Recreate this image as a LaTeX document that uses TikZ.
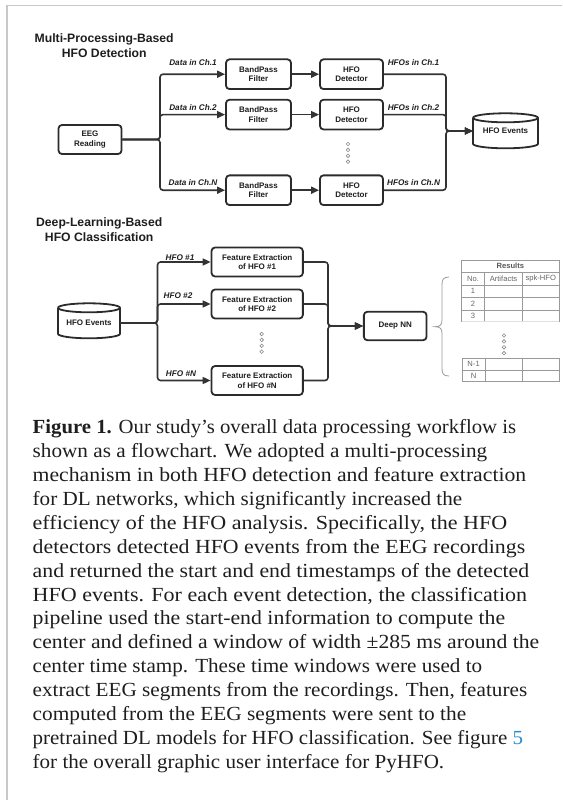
\documentclass[tikz,border=0pt]{standalone}
\usepackage{graphicx}
\usepackage{fontspec}
\setmainfont{Liberation Sans}
\newfontfamily\capfont[FakeStretch=1.04]{Liberation Serif}
\usetikzlibrary{arrows.meta}
\definecolor{boxc}{HTML}{2B2B2B}
\definecolor{linec}{HTML}{333333}
\definecolor{textc}{HTML}{1E1E1E}
\definecolor{framec}{HTML}{C8C8C8}
\definecolor{tabc}{HTML}{9A9A9A}
\definecolor{tabtext}{HTML}{666666}
\definecolor{dotc}{HTML}{8A8A8A}
\definecolor{linkc}{HTML}{2A8AD0}
\newcommand{\capln}[2]{\resizebox{#1}{\height}{#2}}
\tikzset{
  box/.style={draw=boxc, line width=1.8pt, rounded corners=3.5pt, fill=white,
    font=\fontsize{8}{9.6}\selectfont\bfseries, text=textc, align=center, inner sep=0pt},
  cylnode/.style={draw=none, inner sep=0pt, font=\fontsize{8}{9.6}\selectfont\bfseries, text=textc},
  cylline/.style={draw=boxc, line width=1.8pt},
  conn/.style={draw=linec, line width=1.6pt, rounded corners=3pt},
  arr/.style={conn, -{Triangle[length=8pt,width=7pt]}},
  lab/.style={font=\fontsize{8.2}{9}\selectfont\bfseries\itshape, text=textc, inner sep=0pt},
  ttl/.style={font=\fontsize{12.2}{14.8}\selectfont\bfseries, text=textc, align=center, inner sep=0pt},
  tline/.style={draw=tabc, line width=0.6pt},
  ttext/.style={font=\fontsize{7.6}{8}\selectfont, text=tabtext, inner sep=0pt},
  dotm/.style={draw=dotc, line width=0.6pt},
  capl/.style={font=\capfont\fontsize{20}{24}\selectfont, text=textc, anchor=base west, inner sep=0pt},
}
\begin{document}
\begin{tikzpicture}[x=1pt,y=-1pt]
\useasboundingbox (0,0) rectangle (562,800);
% frame
\draw[draw=framec, line width=1.5pt] (7.2,800) -- (7.2,5.4) -- (562,5.4);

% ---------- Part 1 ----------
\node[ttl] (title1) at (104.2,45.5) {Multi-Processing-Based\\HFO Detection};

\node[box, minimum width=63pt, minimum height=29pt] (eeg) at (90,139.5) {EEG\\Reading};
\node[box, minimum width=65pt, minimum height=29.7pt] (bp1) at (258.5,74.2) {BandPass\\Filter};
\node[box, minimum width=65pt, minimum height=29.7pt] (bp2) at (258.5,114.6) {BandPass\\Filter};
\node[box, minimum width=65pt, minimum height=29.7pt] (bp3) at (258.5,190.2) {BandPass\\Filter};
\node[box, minimum width=63pt, minimum height=29.7pt] (det1) at (351.5,74.2) {HFO\\Detector};
\node[box, minimum width=63pt, minimum height=29.7pt] (det2) at (351.5,114.6) {HFO\\Detector};
\node[box, minimum width=63pt, minimum height=29.7pt] (det3) at (351.5,190.2) {HFO\\Detector};

% cylinder 1
\draw[cylline] (473,117.8) -- (473,143.8)
  arc[start angle=180, end angle=360, x radius=32.5pt, y radius=4.5pt]
  -- (538,117.8)
  arc[start angle=0, end angle=180, x radius=32.5pt, y radius=4.5pt];
\draw[cylline] (473,117.8) arc[start angle=180, end angle=360, x radius=32.5pt, y radius=4.5pt];
\node[cylnode, minimum width=65pt, minimum height=30pt] (ev1) at (505.5,131) {\raisebox{-3pt}{HFO Events}};

\draw[arr] (eeg.east) -- (160,139.5) |- (bp1.west);
\draw[arr] (eeg.east) -- (160,139.5) |- (bp2.west);
\draw[arr] (eeg.east) -- (160,139.5) |- (bp3.west);
\draw[arr] (bp1.east) -- (det1.west);
\draw[arr] (bp2.east) -- (det2.west);
\draw[arr] (bp3.east) -- (det3.west);
\draw[arr] (det1.east) -| (446,131) -- (ev1.west);
\draw[arr] (det2.east) -| (446,131) -- (ev1.west);
\draw[arr] (det3.east) -| (446,131) -- (ev1.west);

\node[lab] (ld1) at (193,62.3) {Data in Ch.1};
\node[lab] (ld2) at (193,107.3) {Data in Ch.2};
\node[lab] (ld3) at (193,182.7) {Data in Ch.N};
\node[lab] (lh1) at (413.5,62.3) {HFOs in Ch.1};
\node[lab] (lh2) at (413.5,107.3) {HFOs in Ch.2};
\node[lab] (lh3) at (413.5,182.7) {HFOs in Ch.N};

\foreach \k in {0,...,3} \draw[dotm] (348,{144+\k*5.9}) circle[radius=1.8pt];

% ---------- Part 2 ----------
\node[ttl] (title2) at (99.2,229.4) {Deep-Learning-Based\\HFO Classification};

% cylinder 2
\draw[cylline] (58,307.8) -- (58,333.8)
  arc[start angle=180, end angle=360, x radius=31pt, y radius=4.5pt]
  -- (120,307.8)
  arc[start angle=0, end angle=180, x radius=31pt, y radius=4.5pt];
\draw[cylline] (58,307.8) arc[start angle=180, end angle=360, x radius=31pt, y radius=4.5pt];
\node[cylnode, minimum width=62pt, minimum height=30pt] (ev2) at (89,323) {\raisebox{-2pt}{HFO Events}};

\node[box, minimum width=91.3pt, minimum height=29pt] (fe1) at (257.2,262) {Feature Extraction\\of HFO \#1};
\node[box, minimum width=91.3pt, minimum height=29pt] (fe2) at (257.2,304) {Feature Extraction\\of HFO \#2};
\node[box, minimum width=91.3pt, minimum height=29pt] (fe3) at (257.2,380.5) {Feature Extraction\\of HFO \#N};
\node[box, minimum width=62.7pt, minimum height=28.5pt] (dnn) at (395.2,326) {Deep NN};

\draw[arr] (ev2.east) -- (157.5,323) |- (fe1.west);
\draw[arr] (ev2.east) -- (157.5,323) |- (fe2.west);
\draw[arr] (ev2.east) -- (157.5,323) |- (fe3.west);
\draw[arr] (fe1.east) -| (328,326) -- (dnn.west);
\draw[arr] (fe2.east) -| (328,326) -- (dnn.west);
\draw[arr] (fe3.east) -| (328,326) -- (dnn.west);

\node[lab] (lf1) at (180,258) {HFO \#1};
\node[lab] (lf2) at (178,295.5) {HFO \#2};
\node[lab] (lf3) at (181,373.3) {HFO \#N};

\foreach \k in {0,...,3} \draw[dotm] (261.7,{334+\k*5.9}) circle[radius=1.8pt];

% brace
\draw[draw=tabc, line width=0.8pt] (449,277) .. controls (443,277) and (442,280) .. (442,285)
  -- (442,320) .. controls (442,325) and (440,326.7) .. (435,326.7)
  .. controls (440,326.7) and (442,328.5) .. (442,333.5)
  -- (442,368) .. controls (442,373.5) and (443,376) .. (449,376);

% top table
\draw[tline] (461.7,321.7) -- (461.7,260) -- (559,260) -- (559,321.7);
\draw[tline] (461.7,272.3) -- (559,272.3);
\draw[tline] (461.7,285) -- (559,285);
\draw[tline] (461.7,297.3) -- (559,297.3);
\draw[tline] (461.7,310) -- (559,310);
\draw[tline] (484.3,272.3) -- (484.3,321.7);
\draw[tline] (522.7,272.3) -- (522.7,321.7);
\draw[tline, draw=tabc!30] (461.7,321.7) -- (559,321.7);
\node[ttext, font=\fontsize{7.6}{8}\selectfont\bfseries, text=tabtext!85!black] (tres) at (510.3,266.2) {Results};
\node[ttext] (tno) at (473,278.8) {No.};
\node[ttext] (tart) at (503.5,278.8) {Artifacts};
\node[ttext] (tspk) at (540.8,278.8) {spk-HFO};
\node[ttext] (tr1) at (473,291.2) {1};
\node[ttext] (tr2) at (473,303.7) {2};
\node[ttext] (tr3) at (473,316) {3};

\foreach \k in {0,...,3} \draw[dotm] (504,{335.5+\k*5.9}) circle[radius=1.8pt];

% bottom table
\draw[tline] (462.3,358.3) rectangle (559,381.7);
\draw[tline] (462.3,370) -- (559,370);
\draw[tline] (485,358.3) -- (485,381.7);
\draw[tline] (522.7,358.3) -- (522.7,381.7);
\node[ttext] (trn1) at (473.6,364.2) {N-1};
\node[ttext] (trn) at (473.6,375.9) {N};

% ---------- caption ----------
\node[capl] (c1) at (32.5,433.5) {\capln{483.5pt}{\textbf{Figure 1.} Our study’s overall data processing workflow is}};
\node[capl] (c2) at (32.5,457.4) {\capln{454.5pt}{shown as a flowchart. We adopted a multi-processing}};
\node[capl] (c3) at (32.5,481.4) {\capln{493.5pt}{mechanism in both HFO detection and feature extraction}};
\node[capl] (c4) at (32.5,505.3) {\capln{429.5pt}{for DL networks, which significantly increased the}};
\node[capl] (c5) at (32.5,529.2) {\capln{474.5pt}{efficiency of the HFO analysis. Specifically, the HFO}};
\node[capl] (c6) at (32.5,553.2) {\capln{492.5pt}{detectors detected HFO events from the EEG recordings}};
\node[capl] (c7) at (32.5,577.1) {\capln{496.5pt}{and returned the start and end timestamps of the detected}};
\node[capl] (c8) at (32.5,601.0) {\capln{494.5pt}{HFO events. For each event detection, the classification}};
\node[capl] (c9) at (32.5,624.9) {\capln{472.5pt}{pipeline used the start-end information to compute the}};
\node[capl] (c10) at (32.5,648.9) {\capln{506.5pt}{center and defined a window of width ±285 ms around the}};
\node[capl] (c11) at (32.5,672.8) {\capln{449.5pt}{center time stamp. These time windows were used to}};
\node[capl] (c12) at (32.5,696.7) {\capln{494.5pt}{extract EEG segments from the recordings. Then, features}};
\node[capl] (c13) at (32.5,720.7) {\capln{433.5pt}{computed from the EEG segments were sent to the}};
\node[capl] (c14) at (32.5,744.6) {\capln{490.5pt}{pretrained DL models for HFO classification. See figure \textcolor{linkc}{5}}};
\node[capl] (c15) at (32.5,768.5) {\capln{411.5pt}{for the overall graphic user interface for PyHFO.}};
\end{tikzpicture}
\end{document}
